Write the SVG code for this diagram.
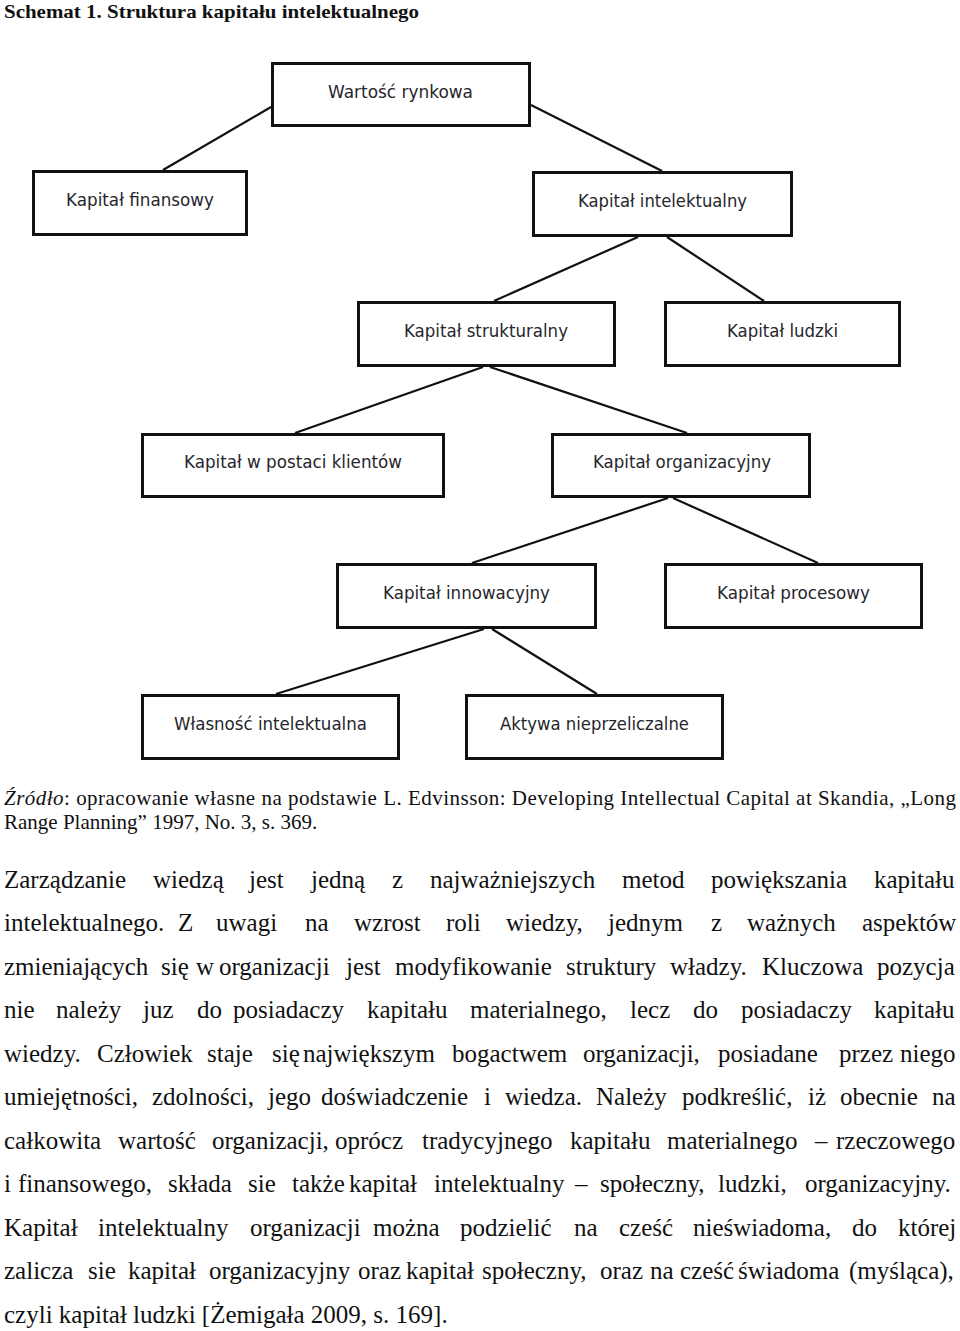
<svg xmlns="http://www.w3.org/2000/svg" width="960" height="1331" viewBox="0 0 960 1331">
<style>
.box{fill:#fff;stroke:#111;stroke-width:3}
.lbl{font-family:"DejaVu Sans",Verdana,sans-serif;font-size:18px;fill:#26262c;text-anchor:middle}
.con line{stroke:#111;stroke-width:2.2}
.ser{font-family:"Liberation Serif","Times New Roman",serif;fill:#111}
.p{font-size:25px}
</style>
<rect width="960" height="1331" fill="#fff"/>
<text class="ser" x="4" y="18" font-size="19" font-weight="bold" textLength="415" lengthAdjust="spacingAndGlyphs">Schemat 1. Struktura kapitału intelektualnego</text>

<g id="connectors" class="con">
<line x1="271" y1="107" x2="163" y2="170"/>
<line x1="531" y1="105" x2="662" y2="171"/>
<line x1="638" y1="237" x2="494" y2="301"/>
<line x1="667" y1="237" x2="764" y2="301"/>
<line x1="483" y1="367" x2="295" y2="433"/>
<line x1="490" y1="367" x2="687" y2="433"/>
<line x1="668" y1="498" x2="472" y2="563"/>
<line x1="673" y1="498" x2="818" y2="563"/>
<line x1="484" y1="629" x2="276" y2="694"/>
<line x1="492" y1="629" x2="597" y2="694"/>
</g>

<g id="n-wartosc"><rect class="box" x="272.5" y="63.5" width="257" height="62"/><text class="lbl" x="400.5" y="98" textLength="145" lengthAdjust="spacingAndGlyphs">Wartość rynkowa</text></g>
<g id="n-finansowy"><rect class="box" x="33.5" y="171.5" width="213" height="63"/><text class="lbl" x="140" y="206" textLength="148" lengthAdjust="spacingAndGlyphs">Kapitał finansowy</text></g>
<g id="n-intelektualny"><rect class="box" x="533.5" y="172.5" width="258" height="63"/><text class="lbl" x="662.5" y="207" textLength="169" lengthAdjust="spacingAndGlyphs">Kapitał intelektualny</text></g>
<g id="n-strukturalny"><rect class="box" x="358.5" y="302.5" width="256" height="63"/><text class="lbl" x="486" y="337" textLength="164" lengthAdjust="spacingAndGlyphs">Kapitał strukturalny</text></g>
<g id="n-ludzki"><rect class="box" x="665.5" y="302.5" width="234" height="63"/><text class="lbl" x="782.5" y="337" textLength="111" lengthAdjust="spacingAndGlyphs">Kapitał ludzki</text></g>
<g id="n-klienci"><rect class="box" x="142.5" y="434.5" width="301" height="62"/><text class="lbl" x="293" y="468" textLength="218" lengthAdjust="spacingAndGlyphs">Kapitał w postaci klientów</text></g>
<g id="n-organizacyjny"><rect class="box" x="552.5" y="434.5" width="257" height="62"/><text class="lbl" x="682" y="468" textLength="178" lengthAdjust="spacingAndGlyphs">Kapitał organizacyjny</text></g>
<g id="n-innowacyjny"><rect class="box" x="337.5" y="564.5" width="258" height="63"/><text class="lbl" x="466.5" y="599" textLength="167" lengthAdjust="spacingAndGlyphs">Kapitał innowacyjny</text></g>
<g id="n-procesowy"><rect class="box" x="665.5" y="564.5" width="256" height="63"/><text class="lbl" x="793.5" y="599" textLength="153" lengthAdjust="spacingAndGlyphs">Kapitał procesowy</text></g>
<g id="n-wlasnosc"><rect class="box" x="142.5" y="695.5" width="256" height="63"/><text class="lbl" x="270.5" y="730" textLength="193" lengthAdjust="spacingAndGlyphs">Własność intelektualna</text></g>
<g id="n-aktywa"><rect class="box" x="466.5" y="695.5" width="256" height="63"/><text class="lbl" x="594.5" y="730" textLength="189" lengthAdjust="spacingAndGlyphs">Aktywa nieprzeliczalne</text></g>

<text class="ser" x="4" y="805" font-size="21" textLength="952" lengthAdjust="spacing"><tspan font-style="italic">Źródło</tspan>: opracowanie własne na podstawie L. Edvinsson: Developing Intellectual Capital at Skandia, „Long</text>
<text class="ser" x="4" y="829" font-size="21">Range Planning” 1997, No. 3, s. 369.</text>

<g class="ser p">
<text y="888"><tspan x="4">Zarządzanie</tspan><tspan x="153">wiedzą</tspan><tspan x="249">jest</tspan><tspan x="311">jedną</tspan><tspan x="392">z</tspan><tspan x="430">najważniejszych</tspan><tspan x="622">metod</tspan><tspan x="711">powiększania</tspan><tspan x="874">kapitału</tspan></text>
<text y="931"><tspan x="4">intelektualnego.</tspan><tspan x="178">Z</tspan><tspan x="216">uwagi</tspan><tspan x="305">na</tspan><tspan x="354">wzrost</tspan><tspan x="446">roli</tspan><tspan x="506">wiedzy,</tspan><tspan x="608">jednym</tspan><tspan x="711">z</tspan><tspan x="747">ważnych</tspan><tspan x="862">aspektów</tspan></text>
<text y="975"><tspan x="4">zmieniających</tspan><tspan x="161">się</tspan><tspan x="196">w</tspan><tspan x="219">organizacji</tspan><tspan x="346">jest</tspan><tspan x="395">modyfikowanie</tspan><tspan x="566">struktury</tspan><tspan x="670">władzy.</tspan><tspan x="762">Kluczowa</tspan><tspan x="877">pozycja</tspan></text>
<text y="1018"><tspan x="4">nie</tspan><tspan x="56">należy</tspan><tspan x="143">juz</tspan><tspan x="197">do</tspan><tspan x="233">posiadaczy</tspan><tspan x="367">kapitału</tspan><tspan x="470">materialnego,</tspan><tspan x="630">lecz</tspan><tspan x="693">do</tspan><tspan x="741">posiadaczy</tspan><tspan x="874">kapitału</tspan></text>
<text y="1062"><tspan x="4">wiedzy.</tspan><tspan x="97">Człowiek</tspan><tspan x="207">staje</tspan><tspan x="272">się</tspan><tspan x="303">największym</tspan><tspan x="452">bogactwem</tspan><tspan x="583">organizacji,</tspan><tspan x="718">posiadane</tspan><tspan x="839">przez</tspan><tspan x="900">niego</tspan></text>
<text y="1105"><tspan x="4">umiejętności,</tspan><tspan x="152">zdolności,</tspan><tspan x="268">jego</tspan><tspan x="321">doświadczenie</tspan><tspan x="484">i</tspan><tspan x="505">wiedza.</tspan><tspan x="596">Należy</tspan><tspan x="682">podkreślić,</tspan><tspan x="808">iż</tspan><tspan x="840">obecnie</tspan><tspan x="932">na</tspan></text>
<text y="1149"><tspan x="4">całkowita</tspan><tspan x="118">wartość</tspan><tspan x="212">organizacji,</tspan><tspan x="335">oprócz</tspan><tspan x="422">tradycyjnego</tspan><tspan x="570">kapitału</tspan><tspan x="667">materialnego</tspan><tspan x="815">–</tspan><tspan x="836">rzeczowego</tspan></text>
<text y="1192"><tspan x="4">i</tspan><tspan x="18">finansowego,</tspan><tspan x="168">składa</tspan><tspan x="248">sie</tspan><tspan x="292">także</tspan><tspan x="349">kapitał</tspan><tspan x="434">intelektualny</tspan><tspan x="575">–</tspan><tspan x="600">społeczny,</tspan><tspan x="718">ludzki,</tspan><tspan x="805">organizacyjny.</tspan></text>
<text y="1236"><tspan x="4">Kapitał</tspan><tspan x="98">intelektualny</tspan><tspan x="250">organizacji</tspan><tspan x="373">można</tspan><tspan x="460">podzielić</tspan><tspan x="574">na</tspan><tspan x="619">cześć</tspan><tspan x="693">nieświadoma,</tspan><tspan x="852">do</tspan><tspan x="898">której</tspan></text>
<text y="1279"><tspan x="4">zalicza</tspan><tspan x="88">sie</tspan><tspan x="128">kapitał</tspan><tspan x="209">organizacyjny</tspan><tspan x="358">oraz</tspan><tspan x="406">kapitał</tspan><tspan x="482">społeczny,</tspan><tspan x="600">oraz</tspan><tspan x="650">na</tspan><tspan x="680">cześć</tspan><tspan x="738">świadoma</tspan><tspan x="849">(myśląca),</tspan></text>
<text x="4" y="1323">czyli kapitał ludzki [Żemigała 2009, s. 169].</text>
</g>
</svg>
